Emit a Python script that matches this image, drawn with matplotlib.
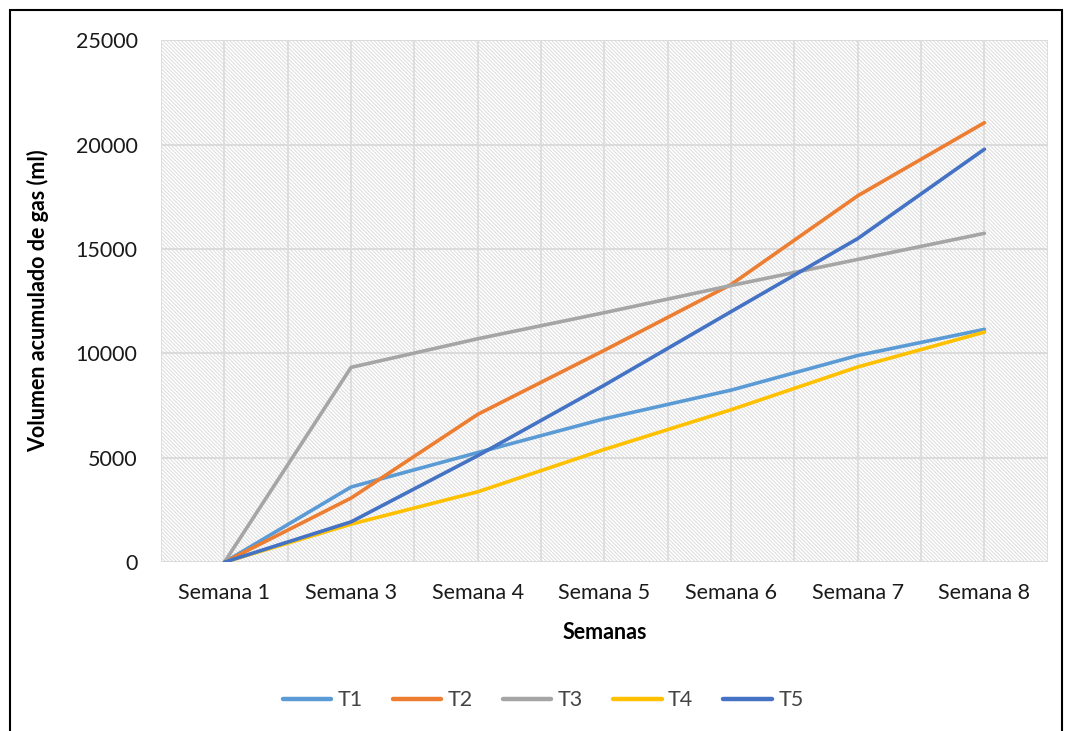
import numpy as np
import matplotlib
matplotlib.use('Agg')
import matplotlib.pyplot as plt
from matplotlib.patches import Rectangle

# Categories and cumulative gas volume (ml)
Semanas = ['Semana 1', 'Semana 3', 'Semana 4', 'Semana 5',
           'Semana 6', 'Semana 7', 'Semana 8']
T1 = [0, 3600, 5250, 6870, 8240, 9900, 11150]
T2 = [0, 3070, 7080, 10150, 13300, 17550, 21050]
T3 = [0, 9330, 10700, 11950, 13250, 14500, 15750]
T4 = [0, 1820, 3370, 5400, 7300, 9350, 11020]
T5 = [0, 1930, 5100, 8480, 12000, 15500, 19780]
Names = ['T1', 'T2', 'T3', 'T4', 'T5']
Colors = ['#5B9BD5', '#ED7D31', '#A5A5A5', '#FFC000', '#4472C4']
YTicks = [0, 5000, 10000, 15000, 20000, 25000]

plt.rcParams['font.family'] = ['Lato', 'DejaVu Sans']
plt.rcParams['hatch.linewidth'] = 0.7

FS = 15.5

fig = plt.figure(figsize=(10.67, 7.31), dpi=100)
ax = fig.add_axes([0.151, 0.231, 0.831, 0.714])

# Hatched plot background
x = np.arange(len(Semanas))
ax.set_xlim(-0.5, len(Semanas) - 0.5)
ax.set_ylim(0, 25000)
bg = Rectangle((0, 0), 1, 1, transform=ax.transAxes, facecolor='white',
               edgecolor='#dcdcdc', hatch='\\' * 9, linewidth=0, zorder=0)
ax.add_patch(bg)

# Gridlines
for yv in YTicks:
    ax.axhline(yv, color='#d9d9d9', lw=1.3, zorder=1)
for xv in np.arange(-0.5, len(Semanas), 0.5):
    ax.axvline(xv, color='#dcdcdc', lw=1.3, zorder=1)

# Series
for vals, name, col in zip([T1, T2, T3, T4, T5], Names, Colors):
    ax.plot(x, vals, color=col, lw=2.6, label=name, solid_capstyle='round',
            solid_joinstyle='round', zorder=3)

for s in ax.spines.values():
    s.set_visible(False)

ax.set_xticks(x)
ax.set_xticklabels(Semanas, fontsize=FS, color='#1a1a1a')
ax.set_yticks(YTicks)
ax.set_yticklabels([str(v) for v in YTicks], fontsize=FS, color='#1a1a1a')
ax.tick_params(axis='x', length=0, pad=15)
ax.tick_params(axis='y', length=0, pad=17)

ax.set_xlabel('Semanas', fontsize=FS, fontweight='bold', labelpad=14)
ax.set_ylabel('Volumen acumulado de gas (ml)', fontsize=FS,
              fontweight='bold', labelpad=19)

leg = fig.legend(loc='center', bbox_to_anchor=(0.509, 0.042), ncol=5,
                 frameon=False, fontsize=FS, handlelength=2.25,
                 columnspacing=1.4, handletextpad=0.3)
for t in leg.get_texts():
    t.set_color('#444444')
for h in leg.legend_handles:
    h.set_linewidth(3.2)

# Outer chart border
border = Rectangle((10 / 1067, -0.01), 1052 / 1067, 1 - 10 / 731 + 0.01,
                   transform=fig.transFigure, fill=False, edgecolor='black',
                   lw=1.5)
fig.patches.append(border)

plt.savefig('out.png', dpi=100)
